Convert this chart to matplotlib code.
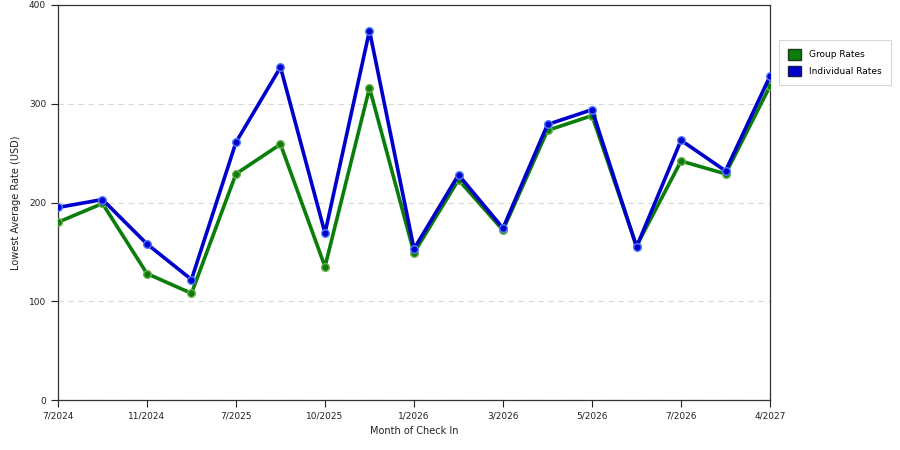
import matplotlib
matplotlib.use("Agg")
import matplotlib.pyplot as plt
from matplotlib.patches import Patch

months = ["7/2024", "", "11/2024", "", "7/2025", "", "10/2025", "", "1/2026",
          "", "3/2026", "", "5/2026", "", "7/2026", "", "4/2027"]
group_rates = [180, 199, 128, 108, 229, 259, 135, 316, 149, 223, 172, 273, 288, 156, 242, 229, 318]
individual_rates = [195, 203, 158, 122, 261, 337, 169, 374, 153, 228, 174, 279, 294, 155, 263, 232, 328]

GREEN = "#0b7d0b"
BLUE = "#0000cc"

plt.rcParams['font.family'] = ['DejaVu Sans']
fig = plt.figure(figsize=(9, 4.5), dpi=100)
ax = fig.add_axes([0.0644, 0.1111, 0.7912, 0.8778])

x = list(range(len(months)))
ax.plot(x, group_rates, color=GREEN, lw=2.6, marker="o", ms=5.5,
        mfc=GREEN, mec="#6fae4f", mew=1, zorder=3)
ax.plot(x, individual_rates, color=BLUE, lw=2.6, marker="o", ms=5.5,
        mfc=BLUE, mec="#4f7fff", mew=1, zorder=4)

ax.set_xlim(0, len(months) - 1)
ax.set_ylim(0, 400)
ax.set_yticks([0, 100, 200, 300, 400])
ax.set_xticks([i for i, m in enumerate(months) if m])
ax.set_xticklabels([m for m in months if m])
ax.tick_params(labelsize=6.5, direction="out", length=5, width=0.8, colors="#222222")
ax.yaxis.grid(True, ls=(0, (5, 4)), color="#d8d8d8", lw=0.8)
ax.set_axisbelow(True)
for s in ax.spines.values():
    s.set_color("#333333")
    s.set_linewidth(0.9)

ax.set_xlabel("Month of Check In", fontsize=7, color="#222222", labelpad=4)
ax.set_ylabel("Lowest Average Rate (USD)", fontsize=7, color="#222222", labelpad=6)

handles = [Patch(facecolor=GREEN, edgecolor="#1a3a1a", label="Group Rates"),
           Patch(facecolor=BLUE, edgecolor="#1a1a4a", label="Individual Rates")]
leg = fig.legend(handles=handles, loc="upper left", bbox_to_anchor=(0.866, 0.911),
                 fontsize=6.5, frameon=True, fancybox=False, handlelength=1.4,
                 handleheight=1.4, handletextpad=0.9, borderpad=1.0,
                 labelspacing=0.7, borderaxespad=0)
leg.get_frame().set_edgecolor("#cccccc")
leg.get_frame().set_linewidth(0.8)

fig.savefig("out.png", dpi=100)
